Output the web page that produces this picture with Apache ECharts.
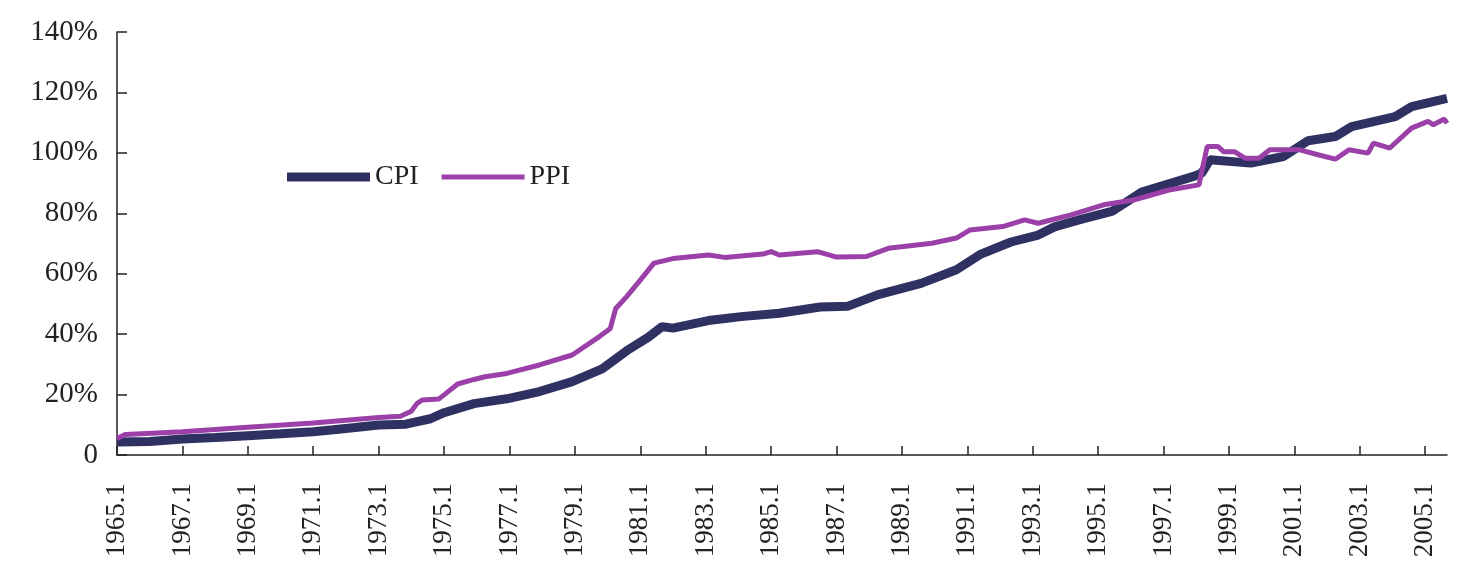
<!DOCTYPE html>
<html>
<head>
<meta charset="utf-8">
<script src="https://cdn.jsdelivr.net/npm/echarts@6/dist/echarts.min.js"></script>
<style>
  html, body { margin: 0; padding: 0; background: #fff; }
  #chart { width: 1461px; height: 583px; }
</style>
</head>
<body>
<div id="chart"></div>
<script>
// monthly categories 1965.1 ... (489 months)
const startYear = 1965;
const monthCount = 489;
const months = [];
for (let i = 0; i < monthCount; i++) {
  months.push((startYear + Math.floor(i / 12)) + "." + (i % 12 + 1));
}

// [month index, %]
const cpi = [
  [0, 4.3], [12, 4.5], [24, 5.3], [36, 5.8], [48, 6.4], [60, 7.0], [72, 7.7],
  [84, 8.8], [96, 9.9], [106, 10.2], [115, 12.0], [120, 14.0], [131, 17.0],
  [143, 18.6], [155, 21.0], [167, 24.3], [178, 28.5], [187, 34.5], [195, 39.0],
  [200, 42.5], [204, 42.0], [217, 44.5], [229, 45.8], [243, 46.9], [258, 49.0],
  [268, 49.2], [279, 53.0], [295, 56.8], [308, 61.3], [317, 66.5], [328, 70.5],
  [338, 72.8], [344, 75.5], [353, 77.8], [365, 80.6], [376, 87.0], [395, 92.2],
  [398, 93.3], [401, 97.7], [416, 96.6], [428, 98.8], [437, 104.0], [447, 105.4],
  [453, 108.7], [469, 112.0], [475, 115.3], [488, 118.0]
];

const ppi = [
  [0, 5.5], [3, 6.8], [24, 7.7], [48, 9.2], [72, 10.6], [96, 12.4], [104, 12.8],
  [108, 14.5], [110, 17.0], [112, 18.2], [118, 18.5], [120, 19.9], [125, 23.5],
  [131, 25.0], [135, 25.9], [143, 27.0], [155, 29.8], [167, 33.1], [177, 39.2],
  [181, 41.9], [183, 48.5], [187, 52.4], [192, 57.9], [197, 63.5], [204, 65.0],
  [217, 66.2], [223, 65.4], [237, 66.5], [240, 67.3], [243, 66.2], [257, 67.3],
  [264, 65.5], [275, 65.7], [283, 68.4], [299, 70.1], [308, 71.8], [313, 74.5],
  [325, 75.6], [333, 77.8], [338, 76.7], [350, 79.5], [362, 82.8], [373, 84.4],
  [386, 87.7], [397, 89.4], [400, 102.1], [404, 102.1], [406, 100.4], [410, 100.4],
  [414, 98.2], [419, 98.2], [423, 101.0], [434, 101.0], [441, 99.3], [447, 97.9],
  [452, 101.0], [459, 99.9], [461, 103.2], [467, 101.6], [475, 108.2], [481, 110.4],
  [483, 109.3], [487, 111.2], [488, 109.8]
];

const font = "'Liberation Serif', 'Times New Roman', serif";
const cpiColor = "#2e3162";
const ppiColor = "#9b40a8";

const chart = echarts.init(document.getElementById("chart"));
chart.setOption({
  animation: false,
  backgroundColor: "#fff",
  grid: { left: 117, right: 14, top: 32, bottom: 128, containLabel: false },
  legend: {
    left: 282,
    top: 158,
    itemWidth: 83,
    itemHeight: 9,
    itemGap: 23,
    textStyle: { fontFamily: font, fontSize: 28, color: "#222" },
    data: [
      { name: "CPI", icon: "path://M0,0H83V9H0Z", itemStyle: { color: cpiColor } },
      { name: "PPI", icon: "path://M0,0H83V5H0Z", itemStyle: { color: ppiColor } }
    ]
  },
  xAxis: {
    type: "category",
    data: months,
    boundaryGap: false,
    axisLine: { lineStyle: { color: "#222", width: 1.5 } },
    axisTick: { inside: true, length: 9, interval: 23, lineStyle: { color: "#222", width: 1.5 } },
    axisLabel: {
      interval: 23,
      rotate: 90,
      margin: 28,
      fontFamily: font,
      fontSize: 27,
      color: "#222"
    },
    splitLine: { show: false }
  },
  yAxis: {
    type: "value",
    min: 0,
    max: 140,
    interval: 20,
    axisLine: { show: true, lineStyle: { color: "#222", width: 1.5 } },
    axisTick: { show: true, inside: true, length: 10, lineStyle: { color: "#222", width: 1.5 } },
    axisLabel: {
      margin: 19,
      fontFamily: font,
      fontSize: 29,
      color: "#222",
      formatter: v => (v === 0 ? "0" : v + "%")
    },
    splitLine: { show: false }
  },
  series: [
    {
      name: "CPI",
      type: "line",
      data: cpi,
      showSymbol: false,
      symbol: "none",
      lineStyle: { color: cpiColor, width: 9 },
      itemStyle: { color: cpiColor }
    },
    {
      name: "PPI",
      type: "line",
      data: ppi,
      showSymbol: false,
      symbol: "none",
      lineStyle: { color: ppiColor, width: 5 },
      itemStyle: { color: ppiColor }
    }
  ]
});
</script>
</body>
</html>
